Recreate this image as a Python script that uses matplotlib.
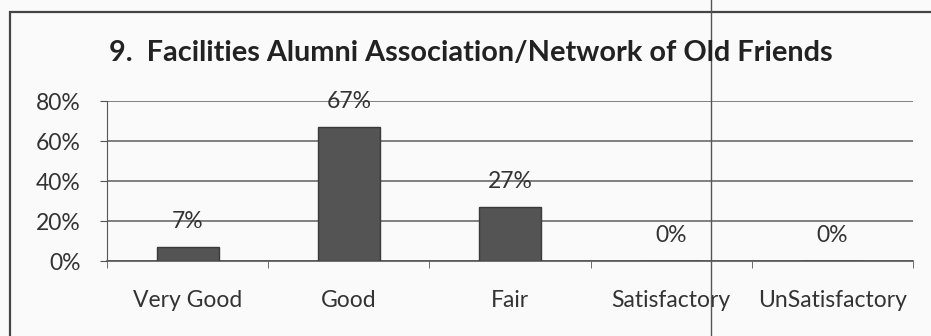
import matplotlib.pyplot as plt
from matplotlib.patches import Rectangle
from matplotlib.lines import Line2D
from matplotlib.ticker import PercentFormatter, FixedLocator

categories = ['Very Good', 'Good', 'Fair', 'Satisfactory', 'UnSatisfactory']
values = [7, 67, 27, 0, 0]
y_ticks = [0, 20, 40, 60, 80]
title = '9.  Facilities Alumni Association/Network of Old Friends'

plt.rcParams['font.family'] = ['Lato', 'DejaVu Sans']

fig = plt.figure(figsize=(9.31, 3.36), dpi=100)
fig.patch.set_facecolor('#fbfafa')

# scanned chart border + crease line
fig.add_artist(Rectangle((10 / 931, -0.1), 1.0, 1 - 12 / 336 + 0.1, transform=fig.transFigure,
                         fill=False, edgecolor='#444444', linewidth=1.6))
fig.add_artist(Line2D([711 / 931, 711 / 931], [0, 1], transform=fig.transFigure,
                      color='#555555', linewidth=1.0))

ax = fig.add_axes([107 / 931, 1 - 261 / 336, (913 - 107) / 931, (261 - 101) / 336])
ax.set_facecolor('none')

x = range(len(categories))
bars = ax.bar(x, values, width=0.385, color='#545454', edgecolor='#3a3a3a', linewidth=1, zorder=3)

for xi, v in zip(x, values):
    ax.annotate(f'{v}%', (xi, v), xytext=(0, 18), textcoords='offset points',
                ha='center', va='center', fontsize=16.5, color='#333333')

ax.set_xlim(-0.5, len(categories) - 0.5)
ax.set_ylim(0, 80)
ax.set_yticks(y_ticks)
ax.yaxis.set_major_formatter(PercentFormatter(decimals=0))
ax.grid(axis='y', color='#6a6a6a', linewidth=1.2, zorder=0)

ax.set_xticks(list(x))
ax.set_xticklabels(categories)
ax.xaxis.set_minor_locator(FixedLocator([i - 0.5 for i in range(len(categories) + 1)]))
ax.tick_params(axis='x', which='major', length=0, pad=21, labelsize=16.5, labelcolor='#333333')
ax.tick_params(axis='x', which='minor', length=5, color='#555555', direction='out')
ax.tick_params(axis='y', length=5, color='#555555', labelsize=16.5, labelcolor='#333333', pad=14)

for s in ['top', 'right']:
    ax.spines[s].set_visible(False)
ax.spines['left'].set_color('#555555')
ax.spines['bottom'].set_color('#555555')
ax.spines['bottom'].set_linewidth(1.2)

fig.text(471 / 931, 1 - 53 / 336, title, ha='center', va='center', fontsize=20.8,
         fontweight='bold', color='#222222')

fig.savefig('out.png', dpi=100, facecolor=fig.get_facecolor())
